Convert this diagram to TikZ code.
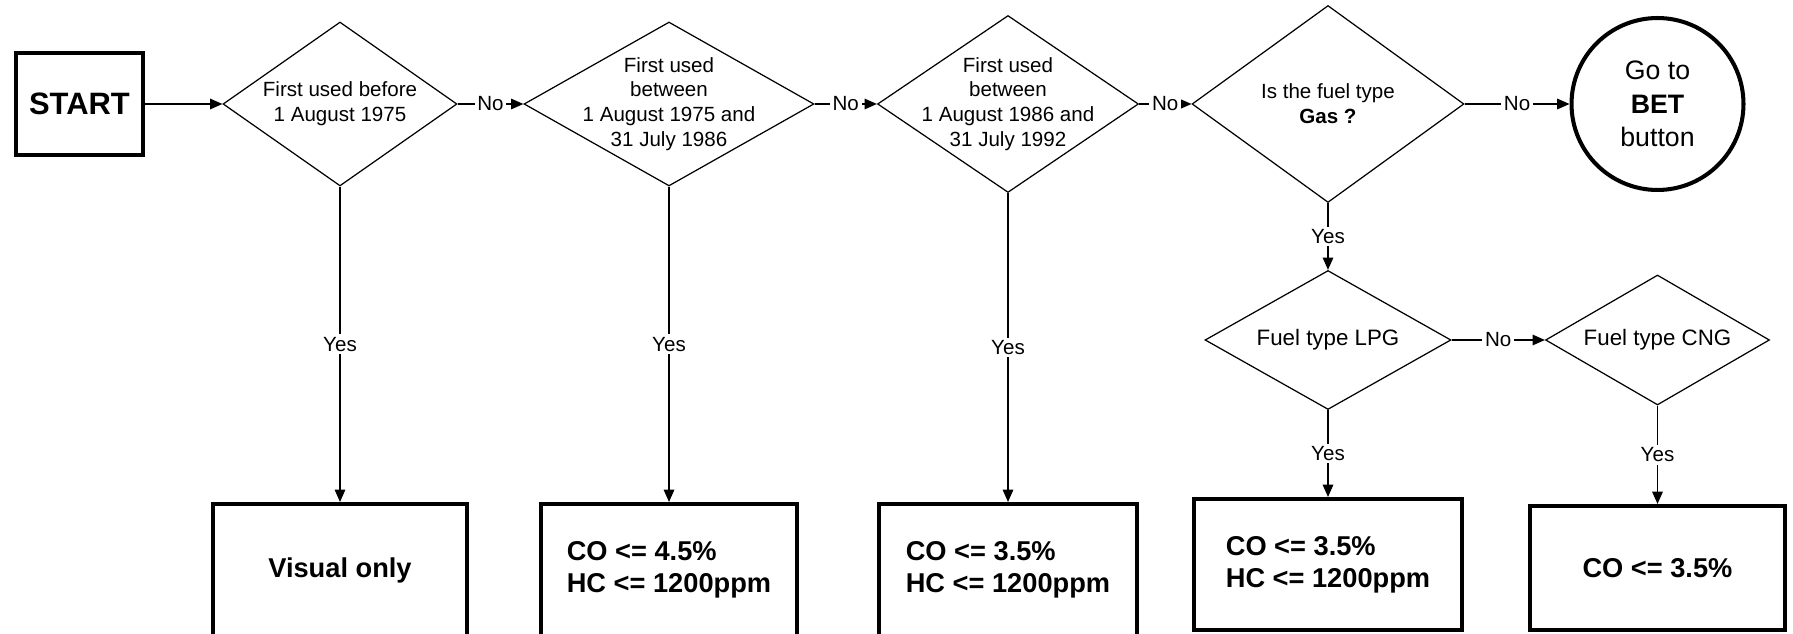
\documentclass[tikz,border=0pt]{standalone}
\usepackage{fontspec}
\setmainfont{Liberation Sans}
\usetikzlibrary{shapes.geometric,arrows.meta}

\begin{document}
\begin{tikzpicture}[x=0.02cm,y=-0.02cm,
  every node/.style={font=\fontsize{11.7}{14.1}\selectfont},
  decision/.style={diamond,draw,line width=0.7pt,inner sep=0pt},
  result/.style={rectangle,draw,line width=2.3pt,align=left,minimum height=2.64cm,
    font=\fontsize{15.5}{18.2}\selectfont\bfseries},
  link/.style={line width=0.7pt,-{Triangle[length=7pt,width=6pt]}},
  lbl/.style={fill=white,inner sep=1.5pt}]
\useasboundingbox (0,0) rectangle (1793,634);
\clip (0,0) rectangle (1793,634);

\node[draw,line width=2.4pt,minimum width=2.54cm,minimum height=2.04cm,
  font=\fontsize{17.6}{20}\selectfont\bfseries] (start) at (79.5,104) {START};
\node[decision,minimum width=4.68cm,minimum height=3.28cm,
  label={[align=center]center:First used before\\1 August 1975}] (d1) at (340,104) {};
\node[decision,minimum width=5.8cm,minimum height=3.28cm,
  label={[align=center]center:First used\\between\\1 August 1975 and\\31 July 1986}] (d2) at (669,104) {};
\node[decision,minimum width=5.22cm,minimum height=3.54cm,
  label={[align=center]center:First used\\between\\1 August 1986 and\\31 July 1992}] (d3) at (1008,104) {};
\node[decision,minimum width=5.44cm,minimum height=3.94cm,
  label={[align=center]center:Is the fuel type\\\textbf{Gas ?}}] (d4) at (1328,104) {};
\node[circle,draw,line width=2.3pt,minimum size=3.44cm,align=center,
  font=\fontsize{15.2}{19.2}\selectfont] (bet) at (1657.5,104) {Go to\\\textbf{BET}\\button};
\node[decision,minimum width=4.92cm,minimum height=2.78cm,
  label={[font=\fontsize{12.7}{15}\selectfont]center:Fuel type LPG}] (d5) at (1328,340) {};
\node[decision,minimum width=4.48cm,minimum height=2.6cm,
  label={[font=\fontsize{12.7}{15}\selectfont]center:Fuel type CNG}] (d6) at (1657.5,340) {};

\node[result,minimum width=5.1cm] (b1) at (340,570) {Visual only};
\node[result,minimum width=5.12cm] (b2) at (669,570) {CO <= 4.5\%\\HC <= 1200ppm};
\node[result,minimum width=5.16cm] (b3) at (1008,570) {CO <= 3.5\%\\HC <= 1200ppm};
\node[result,minimum width=5.36cm,minimum height=2.62cm] (b4) at (1328,564.5) {CO <= 3.5\%\\HC <= 1200ppm};
\node[result,minimum width=5.1cm,minimum height=2.48cm] (b5) at (1657.5,568) {CO <= 3.5\%};

\draw[link] (start) -- (d1);
\draw[link] (d1) -- node[lbl] {No} (d2);
\draw[link] (d2) -- node[lbl] {No} (d3);
\draw[link] (d3) -- node[lbl] {No} (d4);
\draw[link] (d4) -- node[lbl] {No} (bet);
\draw[link] (d5) -- node[lbl] {No} (d6);
\draw[link] (d1) -- node[lbl] {Yes} (b1);
\draw[link] (d2) -- node[lbl] {Yes} (b2);
\draw[link] (d3) -- node[lbl] {Yes} (b3);
\draw[link] (d4) -- node[lbl] {Yes} (d5);
\draw[link] (d5) -- node[lbl] {Yes} (b4);
\draw[link] (d6) -- node[lbl] {Yes} (b5);
\end{tikzpicture}
\end{document}
